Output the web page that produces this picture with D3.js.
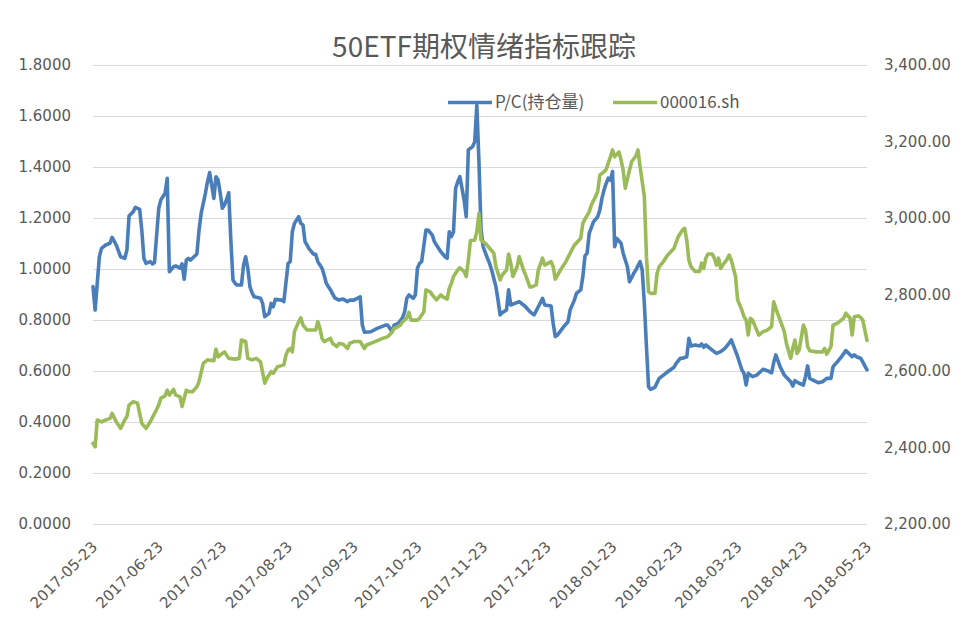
<!DOCTYPE html>
<html><head><meta charset="utf-8">
<script src="https://cdn.jsdelivr.net/npm/d3@7"></script>
<style>html,body{margin:0;padding:0;background:#fff;}svg{display:block;}</style>
</head><body><svg id="c" width="968" height="633"></svg>
<script>
const titleText = "50ETF期权情绪指标跟踪";
const seriesNames = ["P/C(持仓量)", "000016.sh"];
const leftTicks = [0,0.2,0.4,0.6,0.8,1.0,1.2,1.4,1.6,1.8];
const rightTicks = [2200,2400,2600,2800,3000,3200,3400];
const xTickLabels = ["2017-05-23","2017-06-23","2017-07-23","2017-08-23","2017-09-23","2017-10-23","2017-11-23","2017-12-23","2018-01-23","2018-02-23","2018-03-23","2018-04-23","2018-05-23"];

const pcDates = ["2017-05-23","2017-05-24","2017-05-26","2017-05-27","2017-05-29","2017-05-31","2017-06-01","2017-06-03","2017-06-05","2017-06-07","2017-06-08","2017-06-09","2017-06-11","2017-06-12","2017-06-14","2017-06-15","2017-06-16","2017-06-17","2017-06-19","2017-06-20","2017-06-21","2017-06-23","2017-06-24","2017-06-26","2017-06-27","2017-06-28","2017-06-30","2017-07-01","2017-07-03","2017-07-04","2017-07-05","2017-07-06","2017-07-07","2017-07-08","2017-07-10","2017-07-11","2017-07-12","2017-07-13","2017-07-15","2017-07-16","2017-07-17","2017-07-19","2017-07-20","2017-07-21","2017-07-22","2017-07-23","2017-07-24","2017-07-25","2017-07-26","2017-07-27","2017-07-28","2017-07-29","2017-07-30","2017-08-01","2017-08-02","2017-08-03","2017-08-04","2017-08-05","2017-08-06","2017-08-07","2017-08-10","2017-08-11","2017-08-12","2017-08-14","2017-08-15","2017-08-16","2017-08-17","2017-08-20","2017-08-21","2017-08-23","2017-08-24","2017-08-25","2017-08-26","2017-08-28","2017-08-29","2017-08-30","2017-08-31","2017-09-02","2017-09-04","2017-09-05","2017-09-06","2017-09-08","2017-09-09","2017-09-10","2017-09-12","2017-09-14","2017-09-16","2017-09-18","2017-09-20","2017-09-21","2017-09-23","2017-09-26","2017-09-27","2017-09-28","2017-10-01","2017-10-04","2017-10-08","2017-10-09","2017-10-11","2017-10-12","2017-10-14","2017-10-16","2017-10-17","2017-10-18","2017-10-19","2017-10-21","2017-10-22","2017-10-23","2017-10-24","2017-10-25","2017-10-27","2017-10-28","2017-10-30","2017-10-31","2017-11-03","2017-11-05","2017-11-06","2017-11-07","2017-11-08","2017-11-09","2017-11-10","2017-11-11","2017-11-12","2017-11-14","2017-11-15","2017-11-16","2017-11-18","2017-11-19","2017-11-20","2017-11-21","2017-11-22","2017-11-23","2017-11-25","2017-11-26","2017-11-27","2017-11-29","2017-11-30","2017-12-01","2017-12-02","2017-12-04","2017-12-05","2017-12-06","2017-12-08","2017-12-10","2017-12-13","2017-12-15","2017-12-17","2017-12-19","2017-12-21","2017-12-22","2017-12-25","2017-12-26","2017-12-27","2017-12-28","2017-12-31","2018-01-02","2018-01-03","2018-01-05","2018-01-06","2018-01-08","2018-01-09","2018-01-10","2018-01-11","2018-01-12","2018-01-14","2018-01-16","2018-01-17","2018-01-18","2018-01-19","2018-01-20","2018-01-21","2018-01-22","2018-01-23","2018-01-24","2018-01-25","2018-01-27","2018-01-28","2018-01-30","2018-01-31","2018-02-02","2018-02-03","2018-02-05","2018-02-06","2018-02-07","2018-02-08","2018-02-09","2018-02-10","2018-02-12","2018-02-14","2018-02-16","2018-02-18","2018-02-21","2018-02-22","2018-02-24","2018-02-25","2018-02-27","2018-02-28","2018-03-01","2018-03-03","2018-03-05","2018-03-06","2018-03-07","2018-03-08","2018-03-11","2018-03-13","2018-03-15","2018-03-17","2018-03-19","2018-03-20","2018-03-23","2018-03-25","2018-03-26","2018-03-27","2018-03-28","2018-03-29","2018-03-30","2018-04-01","2018-04-04","2018-04-06","2018-04-08","2018-04-09","2018-04-10","2018-04-12","2018-04-14","2018-04-17","2018-04-18","2018-04-19","2018-04-21","2018-04-23","2018-04-24","2018-04-25","2018-04-26","2018-04-28","2018-04-30","2018-05-02","2018-05-04","2018-05-06","2018-05-07","2018-05-09","2018-05-11","2018-05-13","2018-05-14","2018-05-16","2018-05-17","2018-05-18","2018-05-20","2018-05-21","2018-05-23"];
const pcValues = [0.931,0.839,1.048,1.081,1.094,1.101,1.124,1.094,1.048,1.042,1.075,1.208,1.225,1.242,1.234,1.153,1.042,1.022,1.029,1.020,1.025,1.238,1.271,1.297,1.356,0.989,1.009,1.012,1.003,1.020,0.960,1.035,1.042,1.035,1.051,1.059,1.153,1.218,1.297,1.342,1.378,1.277,1.362,1.349,1.297,1.238,1.251,1.273,1.299,1.114,0.957,0.944,0.937,0.937,1.016,1.048,1.003,0.931,0.907,0.891,0.885,0.865,0.813,0.826,0.865,0.852,0.881,0.878,0.872,1.022,1.029,1.146,1.179,1.205,1.179,1.173,1.107,1.078,1.058,1.058,1.029,1.003,0.976,0.944,0.918,0.887,0.878,0.882,0.872,0.878,0.878,0.891,0.780,0.752,0.754,0.767,0.780,0.780,0.754,0.780,0.787,0.809,0.833,0.885,0.898,0.885,0.898,1.003,1.022,1.029,1.153,1.153,1.133,1.107,1.068,1.048,1.042,1.146,1.127,1.146,1.316,1.342,1.362,1.271,1.205,1.467,1.480,1.499,1.643,1.420,1.153,1.087,1.042,1.022,0.996,0.931,0.878,0.820,0.829,0.839,0.918,0.859,0.865,0.872,0.852,0.833,0.820,0.852,0.885,0.859,0.855,0.787,0.735,0.741,0.774,0.793,0.839,0.878,0.905,0.918,0.970,1.051,1.062,1.140,1.185,1.205,1.231,1.277,1.310,1.336,1.356,1.349,1.382,1.087,1.120,1.101,1.062,1.009,0.950,0.983,0.996,1.029,0.996,0.865,0.695,0.538,0.528,0.536,0.571,0.584,0.597,0.615,0.630,0.650,0.650,0.656,0.728,0.698,0.702,0.698,0.706,0.693,0.702,0.682,0.669,0.676,0.689,0.709,0.722,0.656,0.604,0.591,0.545,0.591,0.584,0.578,0.584,0.607,0.601,0.593,0.633,0.663,0.617,0.584,0.558,0.541,0.562,0.552,0.545,0.578,0.620,0.571,0.562,0.554,0.558,0.571,0.571,0.617,0.636,0.656,0.680,0.672,0.656,0.663,0.656,0.650,0.636,0.604];

const idxDates = ["2017-05-23","2017-05-24","2017-05-25","2017-05-27","2017-05-29","2017-05-31","2017-06-01","2017-06-03","2017-06-05","2017-06-07","2017-06-08","2017-06-09","2017-06-11","2017-06-13","2017-06-15","2017-06-17","2017-06-18","2017-06-19","2017-06-21","2017-06-23","2017-06-24","2017-06-26","2017-06-27","2017-06-28","2017-06-30","2017-07-01","2017-07-03","2017-07-04","2017-07-06","2017-07-07","2017-07-09","2017-07-11","2017-07-12","2017-07-14","2017-07-16","2017-07-19","2017-07-20","2017-07-21","2017-07-23","2017-07-24","2017-07-26","2017-07-29","2017-07-31","2017-08-01","2017-08-03","2017-08-04","2017-08-06","2017-08-08","2017-08-10","2017-08-12","2017-08-13","2017-08-15","2017-08-16","2017-08-18","2017-08-21","2017-08-22","2017-08-23","2017-08-24","2017-08-25","2017-08-26","2017-08-28","2017-08-29","2017-08-30","2017-09-01","2017-09-03","2017-09-05","2017-09-06","2017-09-07","2017-09-08","2017-09-09","2017-09-12","2017-09-13","2017-09-15","2017-09-16","2017-09-18","2017-09-20","2017-09-21","2017-09-23","2017-09-25","2017-09-26","2017-09-28","2017-09-29","2017-10-03","2017-10-06","2017-10-09","2017-10-11","2017-10-12","2017-10-13","2017-10-15","2017-10-16","2017-10-18","2017-10-19","2017-10-20","2017-10-23","2017-10-24","2017-10-26","2017-10-27","2017-10-29","2017-10-30","2017-11-01","2017-11-03","2017-11-04","2017-11-06","2017-11-07","2017-11-08","2017-11-09","2017-11-11","2017-11-12","2017-11-14","2017-11-15","2017-11-16","2017-11-17","2017-11-19","2017-11-20","2017-11-21","2017-11-22","2017-11-24","2017-11-26","2017-11-28","2017-11-29","2017-12-01","2017-12-02","2017-12-04","2017-12-05","2017-12-06","2017-12-07","2017-12-09","2017-12-10","2017-12-12","2017-12-13","2017-12-15","2017-12-16","2017-12-18","2017-12-19","2017-12-21","2017-12-22","2017-12-25","2017-12-26","2017-12-27","2017-12-29","2018-01-01","2018-01-03","2018-01-05","2018-01-08","2018-01-09","2018-01-10","2018-01-12","2018-01-13","2018-01-15","2018-01-16","2018-01-17","2018-01-19","2018-01-20","2018-01-22","2018-01-23","2018-01-24","2018-01-26","2018-01-27","2018-01-28","2018-01-29","2018-01-31","2018-02-01","2018-02-03","2018-02-04","2018-02-05","2018-02-07","2018-02-08","2018-02-09","2018-02-10","2018-02-12","2018-02-13","2018-02-14","2018-02-16","2018-02-18","2018-02-21","2018-02-23","2018-02-25","2018-02-26","2018-02-27","2018-02-28","2018-03-01","2018-03-03","2018-03-05","2018-03-06","2018-03-07","2018-03-08","2018-03-09","2018-03-11","2018-03-12","2018-03-13","2018-03-14","2018-03-15","2018-03-16","2018-03-18","2018-03-19","2018-03-20","2018-03-22","2018-03-23","2018-03-25","2018-03-26","2018-03-27","2018-03-28","2018-03-29","2018-03-30","2018-03-31","2018-04-02","2018-04-04","2018-04-06","2018-04-08","2018-04-09","2018-04-10","2018-04-12","2018-04-14","2018-04-15","2018-04-17","2018-04-18","2018-04-19","2018-04-20","2018-04-21","2018-04-23","2018-04-24","2018-04-25","2018-04-26","2018-04-29","2018-05-02","2018-05-03","2018-05-04","2018-05-06","2018-05-07","2018-05-09","2018-05-10","2018-05-12","2018-05-13","2018-05-15","2018-05-16","2018-05-17","2018-05-19","2018-05-20","2018-05-21","2018-05-23"];
const idxValues = [2411,2402,2472,2467,2472,2476,2489,2467,2450,2472,2481,2511,2520,2516,2463,2450,2459,2467,2489,2511,2529,2535,2550,2537,2552,2537,2533,2507,2550,2546,2546,2559,2572,2620,2629,2627,2657,2637,2646,2650,2633,2631,2633,2681,2677,2633,2629,2633,2624,2568,2581,2598,2594,2611,2616,2642,2655,2659,2650,2703,2729,2739,2720,2707,2707,2707,2729,2712,2685,2677,2685,2672,2664,2672,2670,2659,2672,2677,2677,2677,2659,2668,2677,2684,2690,2701,2712,2713,2720,2729,2739,2753,2733,2733,2738,2755,2812,2807,2799,2786,2799,2794,2788,2816,2829,2847,2864,2870,2860,2847,2890,2941,2942,2964,3012,2942,2934,2921,2908,2873,2838,2851,2864,2906,2882,2847,2873,2899,2864,2851,2820,2820,2825,2864,2895,2877,2886,2873,2840,2860,2886,2908,2929,2947,2986,2997,3016,3034,3056,3069,3112,3121,3127,3160,3178,3160,3173,3152,3125,3078,3125,3147,3162,3178,3134,3056,2899,2807,2803,2803,2855,2873,2886,2903,2921,2951,2969,2973,2942,2890,2873,2860,2860,2882,2868,2895,2906,2906,2895,2877,2895,2868,2877,2892,2903,2890,2847,2786,2759,2742,2733,2694,2738,2733,2720,2694,2703,2707,2716,2781,2764,2733,2703,2672,2633,2659,2681,2646,2655,2720,2707,2664,2653,2650,2650,2659,2644,2664,2720,2725,2729,2738,2751,2738,2694,2742,2744,2740,2733,2680];

const parse = d3.timeParse("%Y-%m-%d");
const svg = d3.select("#c");
const L = 93, R = 867, T = 65, B = 524;
const txt = "#595959", grid = "#d9d9d9";
const blue = "#4a7ebb", green = "#9bbb59";
const fontNum = "'DejaVu Sans', 'Liberation Sans', sans-serif";
const fontCJK = "'Noto Sans CJK SC', 'Noto Sans', sans-serif";

const x = d3.scaleTime().domain([parse(xTickLabels[0]), parse(xTickLabels[xTickLabels.length-1])]).range([L, R]);
const yL = d3.scaleLinear().domain([0, 1.8]).range([B, T]);
const yR = d3.scaleLinear().domain([2200, 3400]).range([B, T]);

// gridlines
svg.append("g").selectAll("line").data(leftTicks).join("line")
  .attr("x1", L).attr("x2", R)
  .attr("y1", d => Math.round(yL(d)) + 0.5).attr("y2", d => Math.round(yL(d)) + 0.5)
  .attr("stroke", grid).attr("stroke-width", 1);

// left axis
const gl = svg.append("g").attr("transform", `translate(71,0)`)
  .call(d3.axisLeft(yL).tickValues(leftTicks).tickFormat(d3.format(".4f")).tickSize(0).tickPadding(0));
gl.select(".domain").remove();
gl.selectAll("text").attr("fill", txt).style("font-family", fontNum).style("font-size", "15px");

// right axis
const gr = svg.append("g").attr("transform", `translate(884,0)`)
  .call(d3.axisRight(yR).tickValues(rightTicks).tickFormat(d3.format(",.2f")).tickSize(0).tickPadding(0));
gr.select(".domain").remove();
gr.selectAll("text").attr("fill", txt).style("font-family", fontNum).style("font-size", "15px");

// x axis
const gx = svg.append("g").attr("transform", `translate(0,${B})`)
  .call(d3.axisBottom(x).tickValues(xTickLabels.map(parse)).tickFormat(d3.timeFormat("%Y-%m-%d")).tickSize(0).tickPadding(0));
gx.select(".domain").remove();
gx.selectAll("text")
  .attr("fill", txt).style("font-family", fontNum).style("font-size", "15px")
  .attr("text-anchor", "end").attr("dy", "0.35em").attr("y", 0)
  .attr("transform", "translate(1,20) rotate(-45)");

// lines
const pcData = pcDates.map((d, i) => ({d: parse(d), v: pcValues[i]}));
const idxData = idxDates.map((d, i) => ({d: parse(d), v: idxValues[i]}));
svg.append("path").datum(pcData)
  .attr("fill", "none").attr("stroke", blue).attr("stroke-width", 3.6).attr("stroke-linejoin", "round").attr("stroke-linecap", "round")
  .attr("d", d3.line().x(p => x(p.d)).y(p => yL(p.v)));
svg.append("path").datum(idxData)
  .attr("fill", "none").attr("stroke", green).attr("stroke-width", 3.6).attr("stroke-linejoin", "round").attr("stroke-linecap", "round")
  .attr("d", d3.line().x(p => x(p.d)).y(p => yR(p.v)));

// title
svg.append("text").attr("x", 484).attr("y", 57).attr("text-anchor", "middle")
  .attr("fill", txt).style("font-family", fontCJK).style("font-size", "28px").text(titleText);

// legend
const leg = svg.append("g");
const legItems = [{name: seriesNames[0], color: blue, x0: 448}, {name: seriesNames[1], color: green, x0: 613}];
legItems.forEach(it => {
  leg.append("line").attr("x1", it.x0).attr("x2", it.x0 + 44).attr("y1", 102.5).attr("y2", 102.5)
    .attr("stroke", it.color).attr("stroke-width", 3.6);
  leg.append("text").attr("x", it.x0 + 47).attr("y", 102).attr("dy", "0.35em")
    .attr("fill", txt).style("font-family", fontCJK).style("font-size", "17px").text(it.name);
});
</script></body></html>
